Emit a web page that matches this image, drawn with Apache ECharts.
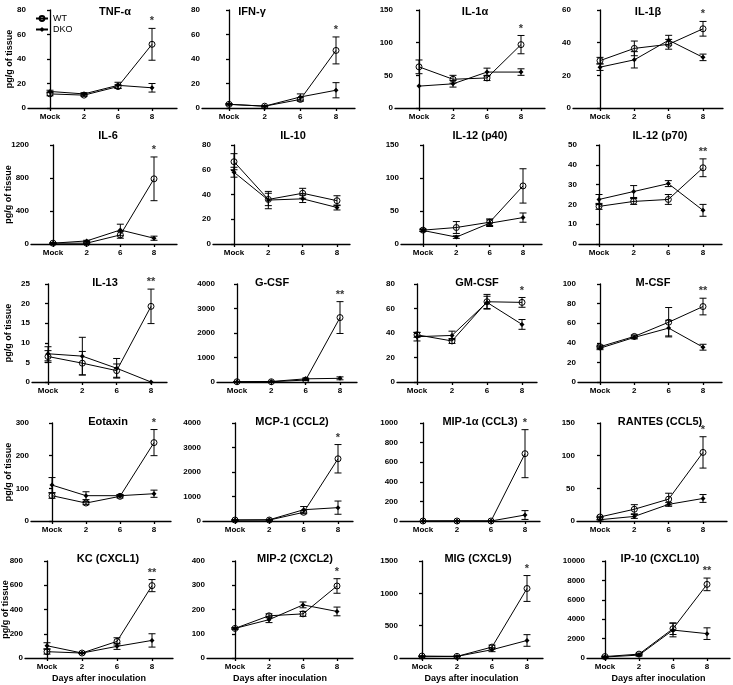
<!DOCTYPE html>
<html>
<head>
<meta charset="utf-8">
<script src="https://cdn.jsdelivr.net/npm/echarts@6/dist/echarts.min.js"></script>
<style>
  html, body { margin: 0; padding: 0; background: #fff; }
  #chart { width: 733px; height: 685px; }
</style>
</head>
<body>
<div id="chart"></div>
<script>
const days = ['Mock', '2', '6', '8'];
const titles = ['TNF-α', 'IFN-γ', 'IL-1α', 'IL-1β',
  'IL-6', 'IL-10', 'IL-12 (p40)', 'IL-12 (p70)',
  'IL-13', 'G-CSF', 'GM-CSF', 'M-CSF',
  'Eotaxin', 'MCP-1 (CCL2)', 'MIP-1α (CCL3)', 'RANTES (CCL5)',
  'KC (CXCL1)', 'MIP-2 (CXCL2)', 'MIG (CXCL9)', 'IP-10 (CXCL10)'];
const yMax = [80, 80, 150, 60, 1200, 80, 150, 50, 25, 4000, 80, 100, 300, 4000, 1000, 150, 800, 400, 1500, 10000];
const yStep = [20, 20, 50, 20, 400, 20, 50, 10, 5, 1000, 20, 20, 100, 1000, 200, 50, 200, 100, 500, 2000];

// mean and SEM, WT (open circles) and DKO (filled)
const wtMean = [
  [11.5, 10.5, 17.5, 52], [3, 1.5, 7, 47], [63, 44, 46, 97], [29, 36.5, 39, 48.5],
  [10, 10, 110, 790], [66.5, 36, 41, 35], [21, 25, 33, 88], [19, 21.5, 22.5, 38.5],
  [6.5, 4.8, 2.9, 19.3], [10, 10, 80, 2630], [38.5, 33.5, 65.5, 65], [36, 46.5, 61, 77],
  [77.5, 55, 75.5, 240], [40, 40, 355, 2540], [0, 0, 0, 687], [6.2, 18, 33.5, 105],
  [52, 41, 137, 597], [122, 174, 182, 297], [30, 25, 169, 1075], [150, 400, 3020, 7590]
];
const wtErr = [
  [1.5, 1, 1.5, 13], [0.5, 0.5, 1.5, 11], [10.5, 6, 4, 14], [2, 4.5, 3, 4.5],
  [5, 5, 40, 265], [6.5, 5, 4, 4], [2, 9, 5, 26], [1.5, 1.5, 2.5, 4.5],
  [1.5, 3, 1.7, 4.4], [10, 10, 20, 650], [2, 2, 6, 4], [1.5, 1.5, 15, 8.5],
  [8, 5, 5, 40], [10, 10, 60, 580], [0, 0, 0, 245], [1, 7, 9, 24],
  [20, 5, 30, 50], [3, 8, 10, 30], [5, 5, 30, 200], [50, 100, 600, 650]
];
const dkoMean = [
  [13.5, 11.5, 18.5, 16.5], [3, 1.5, 9, 14.5], [33.5, 37, 55, 55], [25, 29.5, 41.5, 31],
  [10, 37, 170, 70], [58, 35.5, 36.5, 29.5], [20.5, 10.5, 31.5, 40], [22.5, 26.5, 30.5, 17],
  [7.2, 6.6, 3.5, 0], [10, 20, 130, 150], [37, 38, 65, 47], [34.5, 45.5, 55, 35.5],
  [110, 77.5, 77.5, 83.5], [40, 50, 460, 545], [0, 0, 0, 61], [2, 7, 25.5, 34.5],
  [101, 41, 96, 145], [122, 158, 219, 192], [20, 25, 128, 271], [100, 300, 2880, 2510]
];
const dkoErr = [
  [1, 1, 2.5, 3.5], [0.5, 0.5, 2.5, 6.2], [0, 5, 6, 5], [2, 5, 3, 2],
  [5, 8, 70, 25], [4, 7, 3, 2], [1.5, 2, 5, 7], [2.5, 3, 1.5, 3],
  [1.8, 4.8, 2.5, 0], [10, 10, 30, 60], [3.5, 3.5, 5, 4], [1.5, 1.5, 8, 3],
  [23, 12, 3, 11], [10, 10, 130, 270], [0, 0, 0, 45], [0.5, 3, 3, 6],
  [25, 5, 25, 55], [3, 12, 12, 18], [5, 5, 30, 90], [50, 100, 700, 600]
];
const stars = ['*', '*', '*', '*', '*', '', '', '**', '**', '**', '*', '**',
  '*', '*', '*', '*', '**', '*', '*', '**'];

// panel layout: [y-axis x, Mock x, day-8 x, axis end x]
const colBox = [
  [[28, 50, 152, 177], [202, 229, 336, 355], [395, 419, 521, 545], [573, 600, 703, 723]],
  [[31, 53, 154, 177], [213, 234, 337, 350], [401, 423, 523, 542], [579, 599, 703, 722]],
  [[32, 48, 151, 167], [217, 237, 340, 357], [397, 417, 522, 537], [578, 600, 703, 722]],
  [[31, 52, 154, 171], [203, 235, 338, 353], [400, 423, 525, 540], [577, 600, 703, 727]],
  [[25, 47, 152, 173], [207, 235, 337, 353], [400, 422, 527, 543], [587, 605, 707, 730]]
];
const rowBox = [[10, 108], [145, 244], [284, 382], [423, 521], [561, 658]];
const titleX = [[110, 247, 470, 643], [103, 288, 475, 655], [100, 267, 472, 648],
  [103, 287, 475, 655], [103, 290, 473, 655]];
const titleY = [8, 132, 279, 418, 555];
const yNameX = [9, 8, 8, 8, 5];

const font = 'Liberation Sans, Arial, sans-serif';
const chart = echarts.init(document.getElementById('chart'));

function errorBars(params, api) {
  const m = api.value(1), e = api.value(2);
  if (!e) return;
  const top = api.coord([api.value(0), m + e]);
  const bot = api.coord([api.value(0), Math.max(m - e, 0)]);
  const w = 3.5;
  const st = { stroke: '#000', lineWidth: 1 };
  return {
    type: 'group',
    children: [
      { type: 'line', shape: { x1: top[0], y1: top[1], x2: bot[0], y2: bot[1] }, style: st },
      { type: 'line', shape: { x1: top[0] - w, y1: top[1], x2: top[0] + w, y2: top[1] }, style: st },
      { type: 'line', shape: { x1: bot[0] - w, y1: bot[1], x2: bot[0] + w, y2: bot[1] }, style: st }
    ]
  };
}

const grid = [], xAxis = [], yAxis = [], title = [], series = [];

titles.forEach((name, k) => {
  const r = Math.floor(k / 4), c = k % 4;
  const [L, m, e, R] = colBox[r][c];
  const s = (e - m) / 3;
  const [T, B] = rowBox[r];
  grid.push({ left: L, top: T, width: R - L, height: B - T, outerBoundsMode: 'none' });
  title.push({
    text: name, left: titleX[r][c], top: titleY[r] - 7, textAlign: 'center',
    textStyle: { fontFamily: font, fontSize: 11, fontWeight: 'bold', color: '#000' }
  });
  xAxis.push({
    type: 'value', gridIndex: k,
    min: -(m - L) / s, max: 3 + (R - e) / s,
    splitLine: { show: false },
    axisLine: { lineStyle: { color: '#000', width: 1.3 } },
    axisTick: { customValues: [0, 1, 2, 3], length: 3, lineStyle: { color: '#000', width: 1.3 } },
    axisLabel: {
      customValues: [0, 1, 2, 3], formatter: (v) => days[v], margin: 5,
      fontFamily: font, fontSize: 8, fontWeight: 'bold', color: '#000'
    },
    name: r === 4 ? 'Days after inoculation' : '',
    nameLocation: 'middle', nameGap: 16, nameMoveOverlap: false,
    nameTextStyle: { fontFamily: font, fontSize: 9, fontWeight: 'bold', color: '#000' }
  });
  yAxis.push({
    type: 'value', gridIndex: k, min: 0, max: yMax[k], interval: yStep[k],
    splitLine: { show: false },
    axisLine: { show: true, lineStyle: { color: '#000', width: 1.3 } },
    axisTick: { show: true, length: 3, lineStyle: { color: '#000', width: 1.3 } },
    axisLabel: {
      margin: 2, formatter: (v) => String(v),
      fontFamily: font, fontSize: 8, fontWeight: 'bold', color: '#000'
    },
    name: c === 0 ? 'pg/g of tissue' : '',
    nameLocation: 'middle', nameGap: L - yNameX[r] - 5, nameMoveOverlap: false,
    nameTextStyle: { fontFamily: font, fontSize: 9, fontWeight: 'bold', color: '#000' }
  });

  const pts = (arr) => arr.map((v, i) => [i, v]);
  const bars = (mean, err) => mean.map((v, i) => [i, v, err[i]]);
  series.push({
    type: 'custom', xAxisIndex: k, yAxisIndex: k, renderItem: errorBars,
    encode: { x: 0, y: 1 }, data: bars(wtMean[k], wtErr[k]), z: 2, silent: true
  });
  series.push({
    type: 'custom', xAxisIndex: k, yAxisIndex: k, renderItem: errorBars,
    encode: { x: 0, y: 1 }, data: bars(dkoMean[k], dkoErr[k]), z: 2, silent: true
  });
  series.push({
    name: 'WT', type: 'line', xAxisIndex: k, yAxisIndex: k, data: pts(wtMean[k]),
    symbol: 'circle', symbolSize: 6, z: 3, animation: false,
    lineStyle: { color: '#000', width: 1 },
    itemStyle: { color: 'rgba(255,255,255,0)', borderColor: '#000', borderWidth: 1 }
  });
  series.push({
    name: 'DKO', type: 'line', xAxisIndex: k, yAxisIndex: k, data: pts(dkoMean[k]),
    symbol: 'diamond', symbolSize: 5, z: 3, animation: false,
    lineStyle: { color: '#000', width: 1 },
    itemStyle: { color: '#000' }
  });
  if (stars[k]) {
    const top = Math.max(wtMean[k][3] + wtErr[k][3], dkoMean[k][3] + dkoErr[k][3]);
    series.push({
      type: 'scatter', xAxisIndex: k, yAxisIndex: k, data: [[3, top]],
      symbolSize: 1, itemStyle: { color: 'rgba(0,0,0,0)' }, silent: true,
      label: {
        show: true, position: 'top', distance: 1, formatter: stars[k],
        fontFamily: font, fontSize: 11, fontWeight: 'bold', color: '#000'
      }
    });
  }
});

chart.setOption({
  animation: false,
  title: title,
  grid: grid,
  xAxis: xAxis,
  yAxis: yAxis,
  legend: {
    data: ['WT', 'DKO'], orient: 'vertical', left: 30, top: 9,
    itemWidth: 12, itemHeight: 6, itemGap: 2, selectedMode: false,
    textStyle: { fontFamily: font, fontSize: 9, color: '#000' }
  },
  series: series
});
</script>
</body>
</html>
